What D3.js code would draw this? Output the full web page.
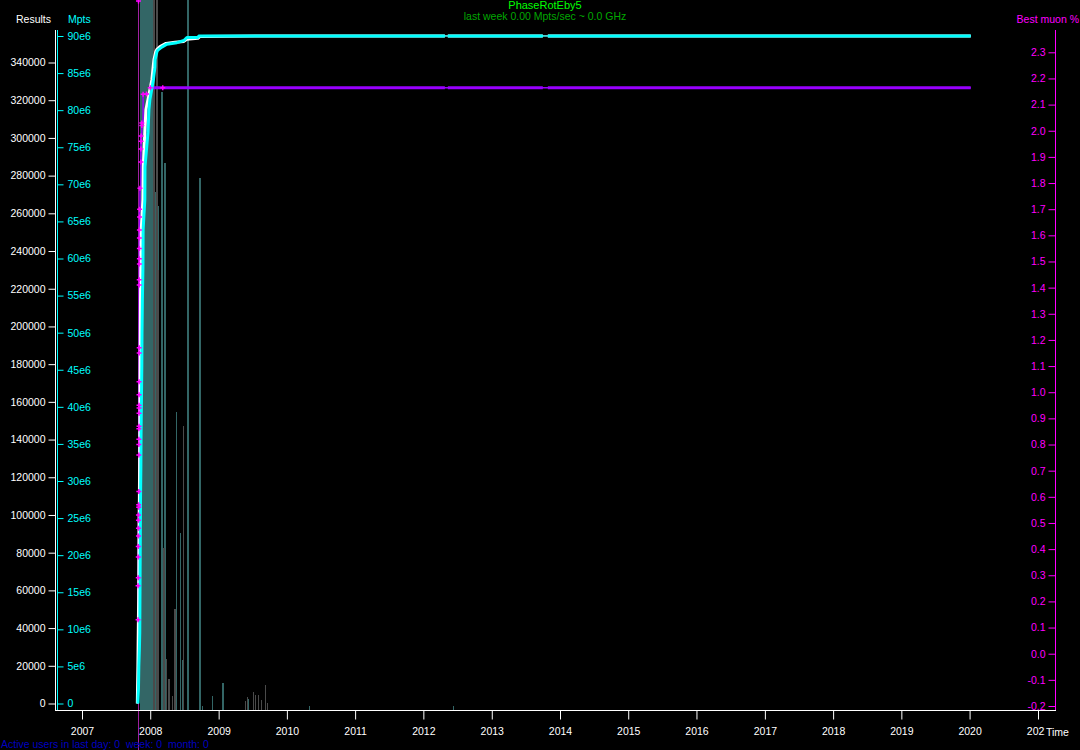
<!DOCTYPE html>
<head>
  <meta charset="utf-8">
  <script src="https://d3js.org/d3.v7.min.js"></script>
  <style>
    body { margin:0; background:#000; }
    text { font-family: "Liberation Sans", Arial, sans-serif; font-size:10.5px; }
    .axis path { display:none; }
  </style>
</head>
<body>
<script>
var parseDate = d3.timeParse("%Y-%m-%d");

// total results (white)
var resultsSeries = [
  ["2007-10-24", 0], ["2007-10-25", 7400], ["2007-10-27", 19600], ["2007-10-29", 37700],
  ["2007-10-31", 55200], ["2007-11-01", 72700], ["2007-11-02", 90700], ["2007-11-04", 108200],
  ["2007-11-05", 125700], ["2007-11-06", 143800], ["2007-11-07", 161300], ["2007-11-08", 178800],
  ["2007-11-09", 196800], ["2007-11-10", 214300], ["2007-11-12", 231800], ["2007-11-14", 251500],
  ["2007-11-23", 267400], ["2007-11-25", 284900], ["2007-12-03", 302900], ["2007-12-09", 315100],
  ["2007-12-20", 320400], ["2008-01-10", 331000], ["2008-01-17", 337900], ["2008-01-21", 341600],
  ["2008-01-31", 345900], ["2008-02-06", 347000], ["2008-02-22", 348500], ["2008-03-25", 350100],
  ["2008-05-12", 350700], ["2008-06-29", 351200], ["2008-07-15", 352300], ["2008-09-12", 352800],
  ["2008-09-23", 353800], ["2009-07-14", 354100], ["2012-04-25", 354100], ["2012-05-11", 354100],
  ["2013-10-01", 354100], ["2013-10-28", 354100], ["2020-01-07", 354100]
];

// total Mpts (cyan)
var mptsSeries = [
  ["2007-10-27", 0], ["2007-10-30", 1.9e6], ["2007-11-01", 5.0e6], ["2007-11-04", 7.3e6],
  ["2007-11-06", 9.6e6], ["2007-11-07", 14.0e6], ["2007-11-08", 18.5e6], ["2007-11-09", 23.0e6],
  ["2007-11-10", 27.5e6], ["2007-11-12", 31.9e6], ["2007-11-13", 36.5e6], ["2007-11-15", 41.0e6],
  ["2007-11-17", 45.4e6], ["2007-11-18", 50.0e6], ["2007-11-20", 54.4e6], ["2007-11-23", 58.9e6],
  ["2007-11-24", 63.9e6], ["2007-12-03", 67.9e6], ["2007-12-04", 72.4e6], ["2007-12-20", 77.0e6],
  ["2007-12-25", 80.1e6], ["2007-12-30", 81.4e6], ["2008-01-18", 84.1e6], ["2008-01-26", 85.8e6],
  ["2008-01-27", 86.8e6], ["2008-02-06", 87.9e6], ["2008-02-11", 88.1e6], ["2008-03-03", 88.5e6],
  ["2008-03-30", 88.9e6], ["2008-05-23", 89.1e6], ["2008-06-29", 89.4e6], ["2008-07-15", 89.8e6],
  ["2008-09-12", 89.8e6], ["2008-09-17", 90.0e6], ["2012-04-25", 90.0e6], ["2012-05-11", 90.0e6],
  ["2013-10-01", 90.0e6], ["2013-10-28", 90.0e6], ["2020-01-07", 90.0e6]
];

// best muon % (magenta / purple)
var muonSeries = [
  ["2007-10-28", 0.13], ["2007-10-28", 0.26], ["2007-10-29", 0.29], ["2007-10-29", 0.37],
  ["2007-10-29", 0.41], ["2007-10-30", 0.45], ["2007-10-30", 0.48], ["2007-10-30", 0.51],
  ["2007-10-30", 0.53], ["2007-10-31", 0.56], ["2007-10-31", 0.57], ["2007-11-01", 0.62],
  ["2007-11-01", 0.76], ["2007-11-01", 0.80], ["2007-11-01", 0.82], ["2007-11-01", 0.86],
  ["2007-11-02", 0.87], ["2007-11-02", 0.92], ["2007-11-02", 0.94], ["2007-11-02", 0.95],
  ["2007-11-02", 0.99], ["2007-11-02", 1.04], ["2007-11-03", 1.15], ["2007-11-03", 1.17],
  ["2007-11-03", 1.41], ["2007-11-03", 1.43], ["2007-11-04", 1.49], ["2007-11-04", 1.51],
  ["2007-11-04", 1.55], ["2007-11-04", 1.59], ["2007-11-04", 1.62], ["2007-11-05", 1.67],
  ["2007-11-05", 1.70], ["2007-11-07", 1.78], ["2007-11-12", 1.88], ["2007-11-12", 1.93],
  ["2007-11-13", 1.96], ["2007-11-13", 1.98], ["2007-11-17", 2.02], ["2007-11-17", 2.03],
  ["2007-11-24", 2.14], ["2007-12-12", 2.141], ["2008-01-01", 2.164], ["2008-03-08", 2.164],
  ["2012-04-25", 2.164], ["2012-05-11", 2.164], ["2013-10-01", 2.164], ["2013-10-28", 2.164],
  ["2020-01-07", 2.164]
];

// periods with no reports
var gapPeriods = [["2012-04-25", "2012-05-11"], ["2013-10-01", "2013-10-28"]];

// weekly activity bars (0..100 of full height)
var tealBars = [
  ["2007-11-05", 100], ["2007-11-12", 100], ["2007-11-19", 100], ["2007-11-26", 100],
  ["2007-12-03", 100], ["2007-12-10", 100], ["2007-12-17", 100], ["2007-12-24", 100],
  ["2007-12-31", 100], ["2008-01-07", 100], ["2008-01-14", 72], ["2008-01-21", 72],
  ["2008-01-28", 73], ["2008-02-04", 72], ["2008-02-11", 71], ["2008-02-29", 87],
  ["2008-03-16", 77], ["2008-05-17", 42], ["2008-06-09", 25], ["2008-06-18", 7],
  ["2008-07-17", 100], ["2008-09-19", 75], ["2008-10-02", 0.6], ["2008-11-27", 2],
  ["2009-01-20", 3.8], ["2009-06-08", 1.5], ["2010-04-30", 0.5], ["2012-06-08", 0.5]
];
var grayBars = [
  ["2008-01-17", 100], ["2008-01-22", 54], ["2008-02-03", 100], ["2008-02-11", 62],
  ["2008-03-08", 10.7], ["2008-03-11", 22.8], ["2008-03-26", 7.2], ["2008-04-07", 4.4],
  ["2008-04-25", 2.0], ["2008-05-09", 14.2], ["2008-06-22", 40], ["2009-05-21", 1.3],
  ["2009-05-30", 1.8], ["2009-07-04", 2.5], ["2009-07-15", 2.1], ["2009-07-31", 2.1],
  ["2009-08-16", 1.4], ["2009-09-06", 3.5], ["2009-09-17", 1.0]
];

var startDate = "2007-10-27";
var markerCutoff = "2009-01-01";

var resultTicks = [0, 20000, 40000, 60000, 80000, 100000, 120000, 140000, 160000, 180000,
  200000, 220000, 240000, 260000, 280000, 300000, 320000, 340000];
var mptsTicks = [0, 5e6, 10e6, 15e6, 20e6, 25e6, 30e6, 35e6, 40e6, 45e6,
  50e6, 55e6, 60e6, 65e6, 70e6, 75e6, 80e6, 85e6, 90e6];
var muonTicks = [-0.2, -0.1, 0.0, 0.1, 0.2, 0.3, 0.4, 0.5, 0.6, 0.7, 0.8, 0.9, 1.0, 1.1, 1.2,
  1.3, 1.4, 1.5, 1.6, 1.7, 1.8, 1.9, 2.0, 2.1, 2.2, 2.3];

function toPoints(arr) { return arr.map(function(d) { return { date: parseDate(d[0]), value: d[1] }; }); }
var results = toPoints(resultsSeries);
var mpts = toPoints(mptsSeries);
var muon = toPoints(muonSeries);
var teal = toPoints(tealBars);
var gray = toPoints(grayBars);
var gaps = gapPeriods.map(function(g) { return [parseDate(g[0]), parseDate(g[1])]; });

var svg = d3.select("body").append("svg")
  .attr("width", 1080)
  .attr("height", 750)
  .style("background", "#000")
  .style("display", "block");

var x = d3.scaleTime()
  .domain([parseDate("2007-01-01"), parseDate("2021-01-01")])
  .range([82, 1038]);
var yRes = d3.scaleLinear().domain([0, 340000]).range([703.5, 62.5]);
var yMpts = d3.scaleLinear().domain([0, 90e6]).range([703.5, 36]);
var yMuon = d3.scaleLinear().domain([-0.2, 2.3]).range([706, 52.3]);
var yHist = d3.scaleLinear().domain([0, 100]).range([710, 0]);

// activity histogram
function drawBars(data, color) {
  svg.append("g").selectAll("rect").data(data).enter()
    .append("rect")
    .attr("shape-rendering", "crispEdges")
    .attr("x", function(d) { return x(d.date); })
    .attr("width", function(d) { return Math.max(1, x(d3.timeDay.offset(d.date, 7)) - x(d.date)); })
    .attr("y", function(d) { return yHist(d.value); })
    .attr("height", function(d) { return yHist(0) - yHist(d.value); })
    .attr("fill", color);
}
drawBars(teal, "#336666");
drawBars(gray, "#4a4a4a");

// project start marker
var xs = Math.round(x(parseDate(startDate))) + 0.5;
svg.append("line")
  .attr("x1", xs).attr("x2", xs).attr("y1", 0).attr("y2", 750)
  .attr("stroke", "#a020a0").attr("stroke-width", 1);

// split a series at the gap periods
function withGaps(pts) {
  var out = [];
  pts.forEach(function(d) {
    gaps.forEach(function(g) { if (+d.date === +g[1]) out.push(null); });
    out.push(d);
  });
  return out;
}

function drawSeries(pts, y, color, curve) {
  var line = d3.line()
    .defined(function(d) { return d !== null; })
    .curve(curve || d3.curveLinear)
    .x(function(d) { return x(d.date); })
    .y(function(d) { return y(d.value); });
  svg.append("path").datum(pts).attr("d", line)
    .attr("fill", "none").attr("stroke", color).attr("stroke-width", 1);
  svg.append("path").datum(withGaps(pts)).attr("d", line)
    .attr("fill", "none").attr("stroke", color).attr("stroke-width", 3)
    .attr("stroke-linejoin", "round");
}

// best muon: thin steps while climbing, thick once it levels off
var muonLine = d3.line()
  .curve(d3.curveStepAfter)
  .x(function(d) { return x(d.date); })
  .y(function(d) { return yMuon(d.value); });
svg.append("path").datum(muon).attr("d", muonLine)
  .attr("fill", "none").attr("stroke", "#9900ff").attr("stroke-width", 1.5);
var muonTop = d3.max(muon, function(d) { return d.value; });
var muonPlateau = muon.filter(function(d) { return d.value === muonTop; });
svg.append("path").datum(withGaps(muonPlateau))
  .attr("d", muonLine.defined(function(d) { return d !== null; }))
  .attr("fill", "none").attr("stroke", "#9900ff").attr("stroke-width", 3);

drawSeries(results, yRes, "#ffffff");
drawSeries(mpts, yMpts, "#00ffff");

// muon markers (only during the active period)
var plus = "M-2.5,0H2.5M0,-2.5V2.5";
var cutoff = parseDate(markerCutoff);
svg.append("g").selectAll("path")
  .data(muon.filter(function(d) { return d.date < cutoff; })).enter()
  .append("path")
  .attr("d", plus)
  .attr("transform", function(d) { return "translate(" + x(d.date) + "," + yMuon(d.value) + ")"; })
  .attr("stroke", "#ff00ff").attr("stroke-width", 1.5);
svg.append("path").attr("d", plus)
  .attr("transform", "translate(" + xs + ",1)")
  .attr("stroke", "#ff00ff").attr("stroke-width", 1.5);

// axes
function styleAxis(g, color) {
  g.selectAll("line").attr("stroke", color);
  g.selectAll("text").attr("fill", color).style("font-size", "10.5px")
    .style("font-family", '"Liberation Sans", Arial, sans-serif');
}

var gRes = svg.append("g").attr("class", "axis")
  .attr("transform", "translate(55.5,0)")
  .call(d3.axisLeft(yRes).tickValues(resultTicks).tickSize(7).tickPadding(3)
    .tickFormat(d3.format("d")));
styleAxis(gRes, "#ffffff");
svg.append("line").attr("x1", 55.5).attr("x2", 55.5).attr("y1", 30).attr("y2", 711)
  .attr("stroke", "#ffffff");

var gMpts = svg.append("g").attr("class", "axis")
  .attr("transform", "translate(57.5,0)")
  .call(d3.axisRight(yMpts).tickValues(mptsTicks).tickSize(6).tickPadding(4)
    .tickFormat(function(d) { return d === 0 ? "0" : (d / 1e6) + "e6"; }));
styleAxis(gMpts, "#00ffff");
svg.append("line").attr("x1", 57.5).attr("x2", 57.5).attr("y1", 30).attr("y2", 711)
  .attr("stroke", "#00ffff");

var gMuon = svg.append("g").attr("class", "axis")
  .attr("transform", "translate(1055.5,0)")
  .call(d3.axisLeft(yMuon).tickValues(muonTicks).tickSize(7).tickPadding(3)
    .tickFormat(function(d) { return d.toFixed(1); }));
styleAxis(gMuon, "#ff00ff");
svg.append("line").attr("x1", 1055.5).attr("x2", 1055.5).attr("y1", 30).attr("y2", 711)
  .attr("stroke", "#ff00ff");

var gX = svg.append("g").attr("class", "axis")
  .attr("transform", "translate(0,710.5)")
  .call(d3.axisBottom(x).ticks(d3.timeYear.every(1)).tickSize(9).tickPadding(8)
    .tickFormat(d3.timeFormat("%Y")));
styleAxis(gX, "#ffffff");
svg.append("line").attr("x1", 55).attr("x2", 1056).attr("y1", 710.5).attr("y2", 710.5)
  .attr("stroke", "#ffffff");

// labels
svg.append("text").attr("x", 16).attr("y", 23).attr("fill", "#ffffff").text("Results");
svg.append("text").attr("x", 68).attr("y", 23).attr("fill", "#00ffff").text("Mpts");
svg.append("text").attr("x", 1079).attr("y", 23).attr("text-anchor", "end")
  .attr("fill", "#ff00ff").text("Best muon %");
svg.append("rect").attr("x", 1045).attr("y", 725).attr("width", 30).attr("height", 12).attr("fill", "#000");
svg.append("text").attr("x", 1046).attr("y", 735.5).attr("fill", "#ffffff").text("Time");

svg.append("text").attr("x", 545).attr("y", 9).attr("text-anchor", "middle")
  .attr("fill", "#00ff00").style("font-size", "11px").text("PhaseRotEby5");
svg.append("text").attr("x", 545).attr("y", 19.5).attr("text-anchor", "middle")
  .attr("fill", "#00a800").text("last week 0.00 Mpts/sec ~ 0.0 GHz");

svg.append("text").attr("x", 1).attr("y", 748).attr("fill", "#0000c0")
  .attr("xml:space", "preserve").style("white-space", "pre")
  .text("Active users in last day: 0  week: 0  month: 0");
</script>
</body>
